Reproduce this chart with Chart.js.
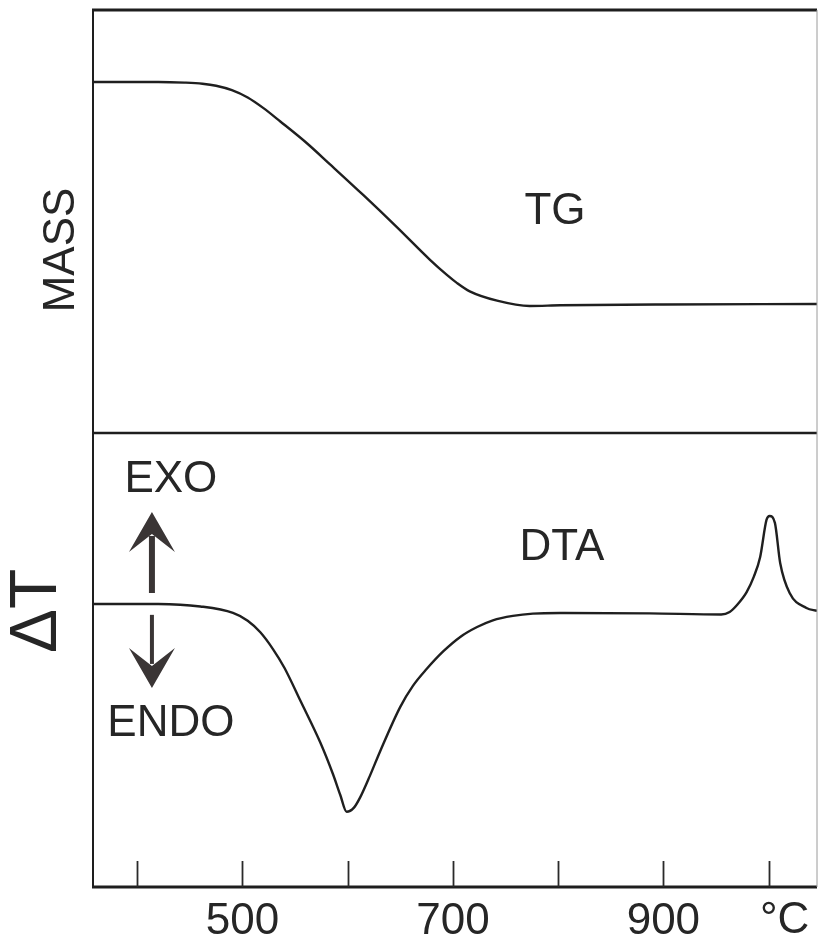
<!DOCTYPE html>
<html>
<head>
<meta charset="utf-8">
<script src="https://cdn.jsdelivr.net/npm/chart.js@4"></script>
<style>
  html, body { margin: 0; padding: 0; background: #fff; }
  #wrap { position: relative; width: 819px; height: 944px; overflow: hidden; }
  canvas { position: absolute; left: 0; }
  #tgChart { top: 0; }
  #dtaChart { top: 420px; }
</style>
</head>
<body>
<div id="wrap">
  <canvas id="tgChart" width="819" height="435"></canvas>
  <canvas id="dtaChart" width="819" height="524"></canvas>
</div>
<script>
// temperature axis (deg C)
const tickValues = [400, 500, 600, 700, 800, 900, 1000];
const labeledTicks = [500, 700, 900];

// TG curve: relative mass (plateau = 100, final = 0)
const tgTemp = [358, 420, 445, 462, 475, 490, 505, 520, 536, 561, 583, 615, 647, 678, 694, 704, 716, 742, 773, 802, 900, 1046];
const tgMass = [100, 100, 99.7, 99.2, 98.3, 96.3, 93, 88.2, 82.2, 72.5, 63, 49, 34.5, 20, 13.2, 9.4, 5.7, 1.5, -0.9, -0.6, -0.2, 0];

// DTA curve: delta T (arbitrary units, exo up)
const dtaTemp = [358, 420, 460, 491, 505, 517, 529, 540, 555, 574, 586, 593, 599, 606, 612, 621, 631, 650, 662, 675, 691, 707, 723, 738, 757, 776, 802, 887, 955, 963, 970, 979, 986, 992, 998, 1001, 1006, 1011, 1020, 1036, 1046];
const dtaSignal = [0, 0, -0.12, -0.43, -0.8, -1.35, -2.15, -3.05, -4.6, -6.6, -8.1, -9.1, -9.9, -9.7, -9.2, -8.2, -7.0, -4.9, -3.9, -3.1, -2.25, -1.57, -1.1, -0.78, -0.57, -0.46, -0.43, -0.45, -0.5, -0.38, -0.05, 0.55, 1.3, 2.24, 4.0, 4.19, 3.86, 1.95, 0.52, -0.19, -0.33];

const FONT = "'Liberation Sans', Arial, sans-serif";
const INK = '#262626';

function toXY(xs, ys) {
  return xs.map((x, i) => ({ x: x, y: ys[i] }));
}

function drawText(ctx, txt, x, y, size, rot) {
  ctx.save();
  ctx.translate(x, y);
  if (rot) ctx.rotate(rot);
  ctx.font = size + 'px ' + FONT;
  ctx.fillStyle = INK;
  ctx.textAlign = 'center';
  ctx.textBaseline = 'middle';
  ctx.fillText(txt, 0, 0);
  ctx.restore();
}

function drawArrow(ctx, x, y0, y1, shaft) {
  const dir = y1 < y0 ? -1 : 1;
  const headLen = 40, headHalf = 23;
  ctx.save();
  ctx.strokeStyle = '#3a3535';
  ctx.fillStyle = '#3a3535';
  ctx.lineWidth = shaft;
  ctx.beginPath();
  ctx.moveTo(x, y0);
  ctx.lineTo(x, y1 - dir * headLen * 0.6);
  ctx.stroke();
  ctx.beginPath();
  ctx.moveTo(x, y1);
  ctx.lineTo(x - headHalf, y1 - dir * headLen);
  ctx.lineTo(x, y1 - dir * headLen * 0.55);
  ctx.lineTo(x + headHalf, y1 - dir * headLen);
  ctx.closePath();
  ctx.fill();
  ctx.restore();
}

const tgDecor = {
  id: 'tgDecor',
  afterDraw(chart) {
    const { ctx, chartArea: a, scales } = chart;
    ctx.save();
    ctx.strokeStyle = '#1e1e1e';
    ctx.lineWidth = 3;
    ctx.beginPath(); ctx.moveTo(a.left - 1, a.top); ctx.lineTo(a.right, a.top); ctx.stroke();
    ctx.lineWidth = 2;
    ctx.beginPath(); ctx.moveTo(a.left, a.top); ctx.lineTo(a.left, a.bottom); ctx.stroke();
    ctx.lineWidth = 2.5;
    ctx.beginPath(); ctx.moveTo(a.left, a.bottom); ctx.lineTo(a.right, a.bottom); ctx.stroke();
    ctx.strokeStyle = '#9a9a9a';
    ctx.lineWidth = 1;
    ctx.beginPath(); ctx.moveTo(a.right, a.top); ctx.lineTo(a.right, a.bottom); ctx.stroke();
    ctx.restore();
    drawText(ctx, 'MASS', a.left - 31, 250, 44, -Math.PI / 2);
    drawText(ctx, 'TG', scales.x.getPixelForValue(797), scales.y.getPixelForValue(41.4), 44);
  }
};

const dtaDecor = {
  id: 'dtaDecor',
  afterDraw(chart) {
    const { ctx, chartArea: a, scales } = chart;
    const sx = scales.x, sy = scales.y;
    ctx.save();
    ctx.strokeStyle = '#1e1e1e';
    ctx.lineWidth = 2;
    ctx.beginPath(); ctx.moveTo(a.left, a.top); ctx.lineTo(a.left, a.bottom); ctx.stroke();
    ctx.lineWidth = 3;
    ctx.beginPath(); ctx.moveTo(a.left - 1, a.bottom); ctx.lineTo(a.right, a.bottom); ctx.stroke();
    ctx.strokeStyle = '#9a9a9a';
    ctx.lineWidth = 1;
    ctx.beginPath(); ctx.moveTo(a.right, a.top); ctx.lineTo(a.right, a.bottom); ctx.stroke();
    // inward tick marks
    ctx.strokeStyle = '#2a2a2a';
    ctx.lineWidth = 1.8;
    tickValues.forEach(v => {
      const px = Math.round(sx.getPixelForValue(v)) + 0.5;
      ctx.beginPath(); ctx.moveTo(px, a.bottom); ctx.lineTo(px, a.bottom - 26); ctx.stroke();
    });
    ctx.restore();

    drawText(ctx, '\u0394T', a.left - 55, sy.getPixelForValue(-0.33), 66, -Math.PI / 2);
    drawText(ctx, 'EXO', sx.getPixelForValue(432), sy.getPixelForValue(5.9), 44);
    drawText(ctx, 'ENDO', sx.getPixelForValue(432), sy.getPixelForValue(-5.71), 44);
    drawText(ctx, 'DTA', sx.getPixelForValue(803.6), sy.getPixelForValue(2.67), 44);
    const ax = sx.getPixelForValue(414);
    drawArrow(ctx, ax, sy.getPixelForValue(0.52), sy.getPixelForValue(4.38), 6);
    drawArrow(ctx, ax, sy.getPixelForValue(-0.52), sy.getPixelForValue(-4.0), 4);
    // unit label
    drawText(ctx, '\u00B0C', sx.getPixelForValue(1000) + 16, a.bottom + 34, 44);
  }
};

const lineStyle = {
  borderColor: '#1f1f1f',
  borderWidth: 2.4,
  pointRadius: 0,
  fill: false,
  cubicInterpolationMode: 'monotone'
};

new Chart(document.getElementById('tgChart'), {
  type: 'line',
  data: { datasets: [Object.assign({ label: 'TG', data: toXY(tgTemp, tgMass) }, lineStyle)] },
  options: {
    responsive: false,
    animation: false,
    layout: { padding: { left: 93, top: 10, right: 2, bottom: 2 } },
    plugins: { legend: { display: false }, tooltip: { enabled: false } },
    scales: {
      x: { type: 'linear', min: 358, max: 1046, display: false },
      y: { min: -58.1, max: 132.4, display: false }
    }
  },
  plugins: [tgDecor]
});

new Chart(document.getElementById('dtaChart'), {
  type: 'line',
  data: { datasets: [Object.assign({ label: 'DTA', data: toXY(dtaTemp, dtaSignal) }, lineStyle)] },
  options: {
    responsive: false,
    animation: false,
    layout: { padding: { left: 93, top: 13, right: 2, bottom: 0 } },
    plugins: { legend: { display: false }, tooltip: { enabled: false } },
    scales: {
      x: {
        type: 'linear',
        min: 358,
        max: 1046,
        afterBuildTicks: s => { s.ticks = tickValues.map(v => ({ value: v })); },
        afterFit: s => { s.height = 57; },
        grid: { display: false, drawTicks: false },
        border: { display: false },
        ticks: {
          autoSkip: false,
          maxRotation: 0,
          padding: 8,
          color: INK,
          font: { family: FONT, size: 44 },
          callback: v => labeledTicks.includes(v) ? String(v) : ''
        }
      },
      y: { min: -13.48, max: 8.14, display: false }
    }
  },
  plugins: [dtaDecor]
});
</script>
</body>
</html>
